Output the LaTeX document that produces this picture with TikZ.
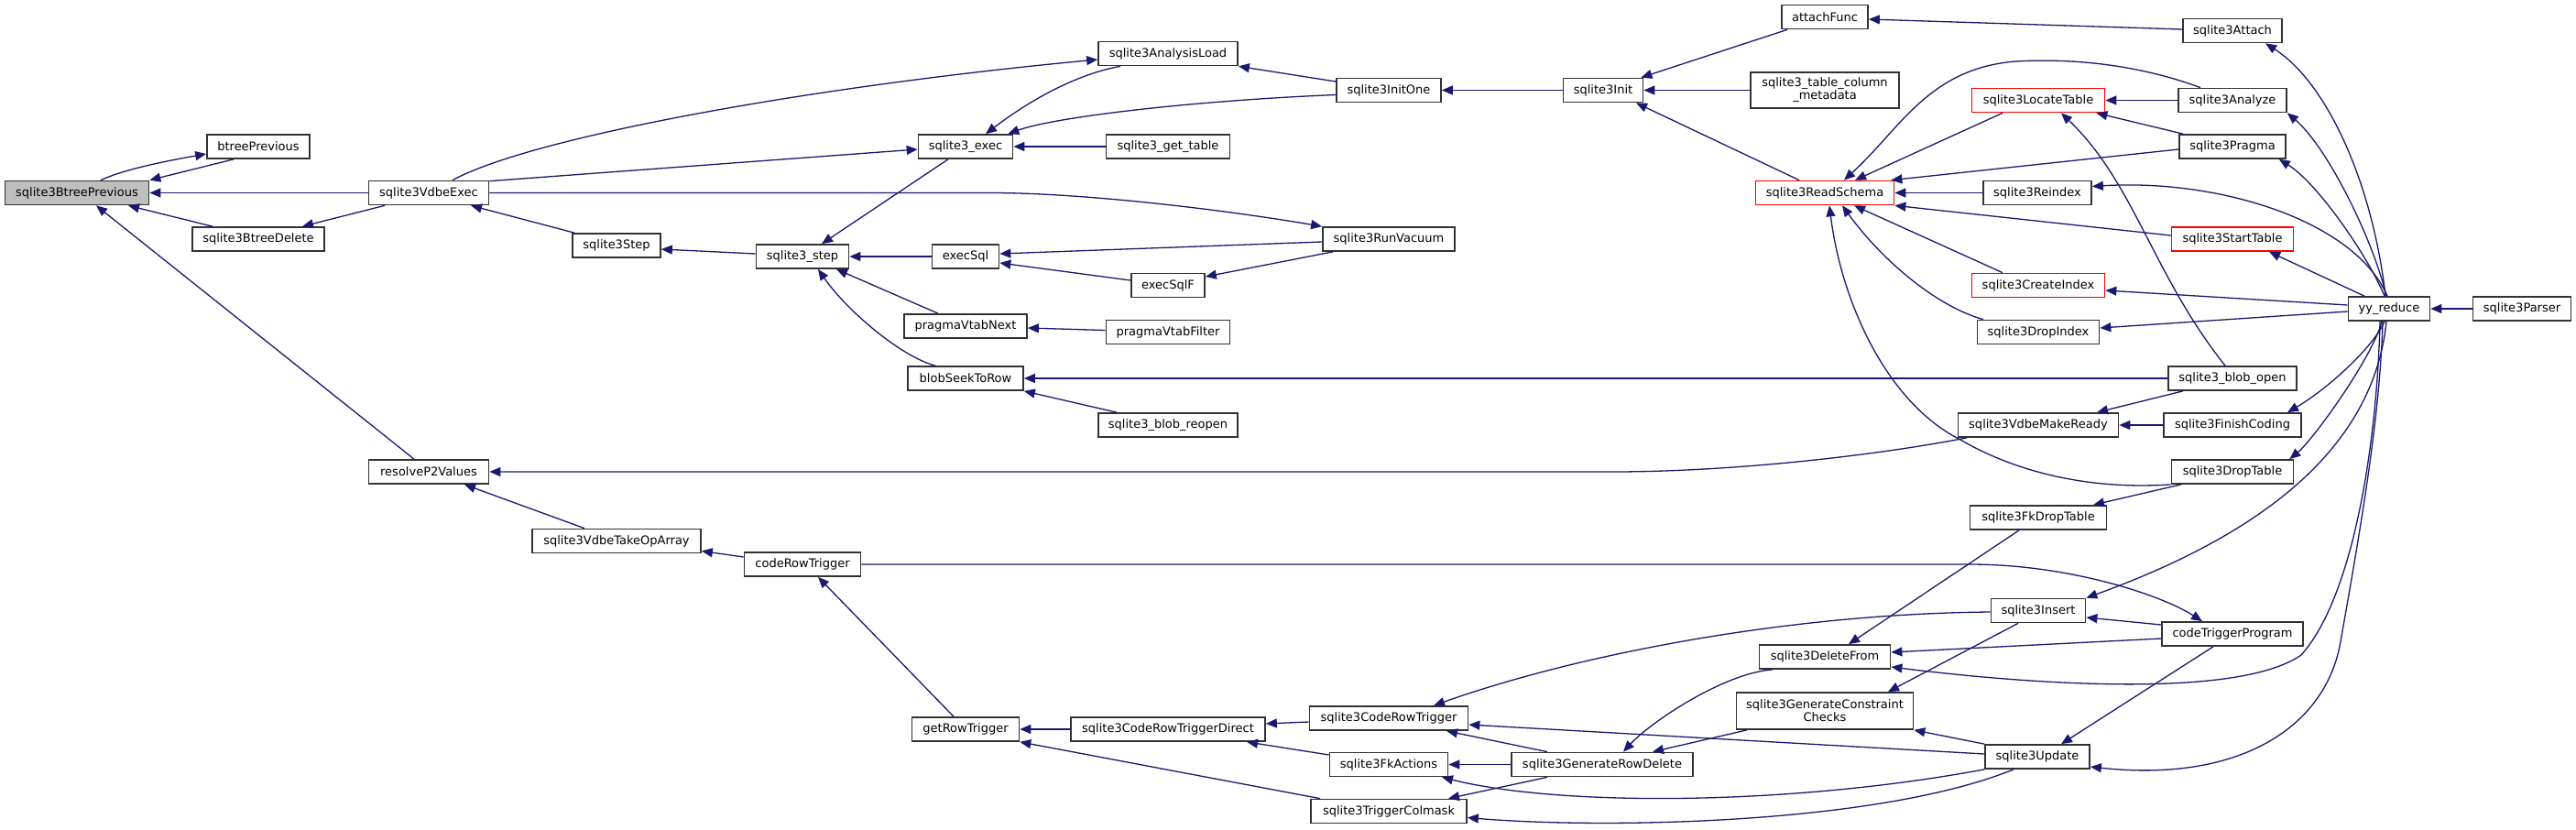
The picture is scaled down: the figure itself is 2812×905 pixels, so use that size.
\documentclass[tikz,border=0pt]{standalone}
\usepackage{fontspec}
\setmainfont{DejaVu Sans}
\usetikzlibrary{arrows.meta}
\definecolor{edgecol}{RGB}{25,25,112}
\definecolor{rednode}{RGB}{255,0,0}
\definecolor{graynode}{RGB}{191,191,191}
\definecolor{bordercol}{RGB}{50,50,50}
\begin{document}
\begin{tikzpicture}[x=1pt,y=-1pt,
  fn/.style={draw=bordercol, line width=1.7pt, fill=white, minimum height=26pt, inner sep=0pt, align=center, font=\fontsize{13}{14}\selectfont},
  rn/.style={fn, draw=rednode},
  gn/.style={fn, fill=graynode},
  ed/.style={draw=edgecol, line width=1.3pt, {Triangle[length=12pt,width=10pt]}-}]
\useasboundingbox[fill=white] (0,0) rectangle (2812,905);
% nodes
\node[gn, minimum width=157pt] (bp) at (84,210.5) {sqlite3BtreePrevious};
\node[fn, minimum width=112pt] (btp) at (282,160) {btreePrevious};
\node[fn, minimum width=131pt] (vdx) at (468,210.5) {sqlite3VdbeExec};
\node[fn, minimum width=144pt] (btd) at (282,261) {sqlite3BtreeDelete};
\node[fn, minimum width=131pt] (rp2) at (468,515) {resolveP2Values};
\node[fn, minimum width=96pt] (step) at (673,268) {sqlite3Step};
\node[fn, minimum width=184pt] (vtoa) at (673,590.5) {sqlite3VdbeTakeOpArray};
\node[fn, minimum width=152pt] (al) at (1275,58.5) {sqlite3AnalysisLoad};
\node[fn, minimum width=103pt] (exec) at (1054,160) {sqlite3\_exec};
\node[fn, minimum width=135pt] (gt) at (1275,160) {sqlite3\_get\_table};
\node[fn, minimum width=101pt] (s3step) at (876,280) {sqlite3\_step};
\node[fn, minimum width=73pt] (esql) at (1054,280) {execSql};
\node[fn, minimum width=80pt] (esqlf) at (1275,311.5) {execSqlF};
\node[fn, minimum width=134pt] (pvn) at (1054,356) {pragmaVtabNext};
\node[fn, minimum width=135pt] (pvf) at (1275,362.5) {pragmaVtabFilter};
\node[fn, minimum width=126pt] (bstr) at (1054,413) {blobSeekToRow};
\node[fn, minimum width=152pt] (bro) at (1275,464) {sqlite3\_blob\_reopen};
\node[fn, minimum width=127pt] (crt) at (876,616) {codeRowTrigger};
\node[fn, minimum width=117pt] (grt) at (1054,796) {getRowTrigger};
\node[fn, minimum width=212pt] (crtd) at (1275,796) {sqlite3CodeRowTriggerDirect};
\node[fn, minimum width=114pt] (io) at (1516,98.5) {sqlite3InitOne};
\node[fn, minimum width=87pt] (init) at (1750,98.5) {sqlite3Init};
\node[fn, minimum width=94pt] (af) at (1992,18.5) {attachFunc};
\node[fn, minimum width=162pt, minimum height=39pt] (tcm) at (1992,98.5) {sqlite3\_table\_column\\\_metadata};
\node[rn, minimum width=151pt] (rs) at (1992,210.5) {sqlite3ReadSchema};
\node[fn, minimum width=144pt] (rv) at (1516,261) {sqlite3RunVacuum};
\node[fn, minimum width=173pt] (cort) at (1516,784) {sqlite3CodeRowTrigger};
\node[fn, minimum width=129pt] (fka) at (1516,834.5) {sqlite3FkActions};
\node[fn, minimum width=170pt] (tcol) at (1516,885.5) {sqlite3TriggerColmask};
\node[fn, minimum width=198pt] (grd) at (1749,834.5) {sqlite3GenerateRowDelete};
\node[fn, minimum width=143pt] (df) at (1992,717) {sqlite3DeleteFrom};
\node[fn, minimum width=193pt, minimum height=40pt] (gcc) at (1992,776) {sqlite3GenerateConstraint\\Checks};
\node[fn, minimum width=108pt] (att) at (2437,33.5) {sqlite3Attach};
\node[rn, minimum width=145pt] (lt) at (2225,109.5) {sqlite3LocateTable};
\node[fn, minimum width=118pt] (an) at (2437,109.5) {sqlite3Analyze};
\node[fn, minimum width=116pt] (pr) at (2437,160) {sqlite3Pragma};
\node[fn, minimum width=118pt] (ri) at (2224,210.5) {sqlite3Reindex};
\node[rn, minimum width=133pt] (st) at (2437,261) {sqlite3StartTable};
\node[rn, minimum width=145pt] (ci) at (2225,311.5) {sqlite3CreateIndex};
\node[fn, minimum width=133pt] (di) at (2225,362.5) {sqlite3DropIndex};
\node[fn, minimum width=89pt] (yy) at (2608,337) {yy\_reduce};
\node[fn, minimum width=107pt] (par) at (2753,337) {sqlite3Parser};
\node[fn, minimum width=140pt] (bo) at (2437,413) {sqlite3\_blob\_open};
\node[fn, minimum width=175pt] (vmr) at (2225,464) {sqlite3VdbeMakeReady};
\node[fn, minimum width=150pt] (fc) at (2437,464) {sqlite3FinishCoding};
\node[fn, minimum width=133pt] (dt) at (2437,515) {sqlite3DropTable};
\node[fn, minimum width=149pt] (fdt) at (2225,565) {sqlite3FkDropTable};
\node[fn, minimum width=103pt] (ins) at (2225,666.5) {sqlite3Insert};
\node[fn, minimum width=154pt] (ctp) at (2437,692) {codeTriggerProgram};
\node[fn, minimum width=114pt] (upd) at (2224,826) {sqlite3Update};
% edges (arrow tip at callee)
\draw[ed] (bp.north east) -- ([xshift=-27pt]btp.south);
\draw[ed] ([yshift=-8pt]btp.west) .. controls (180,176) and (135,185) .. ([xshift=26pt]bp.north);
\draw[ed] (bp.east) -- (vdx.west);
\draw[ed] ([xshift=56pt]bp.south) -- ([xshift=-50pt]btd.north);
\draw[ed] ([xshift=48pt]btd.north) -- ([xshift=-48pt]vdx.south);
\draw[ed] ([xshift=21pt]bp.south) -- ([xshift=-16pt]rp2.north);
\draw[ed] ([xshift=46pt]vdx.south) -- ([xshift=-46pt]step.north);
\draw[ed] ([yshift=-6.5pt]al.west) .. controls (880,95) and (580,150) .. ([xshift=26pt]vdx.north);
\draw[ed] ([yshift=-3pt]exec.west) -- ([yshift=-1pt]vdx.north east);
\draw[ed] (rv.north west) .. controls (1330,228) and (1180,210.5) .. (1081,210.5) -- (vdx.east);
\draw[ed] (al.south east) -- ([yshift=9.5pt]io.west);
\draw[ed] ([xshift=-6pt]exec.north east) .. controls (1150,128) and (1300,110) .. ([yshift=-5pt]io.west);
\draw[ed] ([xshift=22pt]exec.north) .. controls (1130,105) and (1180,80) .. ([xshift=-52pt]al.south);
\draw[ed] ([xshift=21pt]s3step.north) -- ([xshift=-19pt]exec.south);
\draw[ed] (exec.east) -- (gt.west);
\draw[ed] ([yshift=-4pt]step.east) -- ([yshift=3pt]s3step.west);
\draw[ed] (s3step.east) -- (esql.west);
\draw[ed] ([xshift=37pt]s3step.south) -- ([xshift=-30pt]pvn.north);
\draw[ed] ([xshift=17pt]s3step.south) .. controls (925,340) and (985,390) .. ([xshift=-33pt]bstr.north);
\draw[ed] ([yshift=3pt]esql.east) -- ([yshift=-3pt]rv.west);
\draw[ed] ([yshift=-7pt]esql.east) -- ([yshift=5.5pt]esqlf.west);
\draw[ed] ([yshift=9.5pt]esqlf.east) -- ([xshift=-61pt]rv.south);
\draw[ed] ([yshift=-2pt]pvn.east) -- ([yshift=2pt]pvf.west);
\draw[ed] (bstr.south east) -- ([xshift=-56pt]bro.north);
\draw[ed] (bstr.east) -- (bo.west);
\draw[ed] (io.east) -- (init.west);
\draw[ed] ([xshift=-3pt]init.north east) -- ([xshift=-41pt]af.south);
\draw[ed] (init.east) -- (tcm.west);
\draw[ed] ([xshift=36pt]init.south) -- ([xshift=-28pt]rs.north);
\draw[ed] ([yshift=-2.5pt]af.east) -- ([yshift=1.5pt]att.west);
\draw[ed] ([xshift=21pt]rs.north) .. controls (2075,140) and (2105,75) .. (2200,67) .. controls (2290,62) and (2360,80) .. ([xshift=-35pt]an.north);
\draw[ed] ([xshift=33pt]rs.north) -- ([xshift=-39pt]lt.south);
\draw[ed] ([xshift=-4pt]rs.north east) -- ([yshift=-3pt]pr.west);
\draw[ed] (rs.east) -- (ri.west);
\draw[ed] (rs.south east) -- ([yshift=4pt]st.west);
\draw[ed] ([xshift=32pt]rs.south) -- ([xshift=-39pt]ci.north);
\draw[ed] ([xshift=19pt]rs.south) .. controls (2055,285) and (2115,335) .. ([xshift=-60pt]di.north);
\draw[ed] ([xshift=5pt]rs.south) .. controls (2010,330) and (2060,440) .. (2140,480) .. controls (2200,515) and (2280,535) .. (dt.south west);
\draw[ed] (lt.east) -- (an.west);
\draw[ed] ([xshift=-10pt]lt.south east) -- ([xshift=-54pt]pr.north);
\draw[ed] ([xshift=25pt]lt.south) .. controls (2330,200) and (2350,300) .. ([xshift=-8pt]bo.north);
\draw[ed] ([xshift=36pt]att.south) .. controls (2540,90) and (2590,200) .. ([xshift=-4pt]yy.north);
\draw[ed] (an.south east) .. controls (2540,160) and (2590,260) .. ([xshift=-3pt]yy.north);
\draw[ed] ([xshift=-8pt]pr.south east) .. controls (2530,200) and (2585,280) .. ([xshift=-5pt]yy.north);
\draw[ed] ([yshift=7pt]ri.east) .. controls (2420,195) and (2570,240) .. ([xshift=-2pt]yy.north);
\draw[ed] ([xshift=40pt]st.south) -- ([xshift=-27pt]yy.north);
\draw[ed] ([yshift=-5.5pt]ci.east) -- ([yshift=4pt]yy.west);
\draw[ed] ([yshift=4.5pt]di.east) -- ([yshift=-3pt]yy.west);
\draw[ed] (yy.east) -- (par.west);
\draw[ed] ([xshift=64pt]vmr.north) -- ([xshift=-54pt]bo.south);
\draw[ed] ([xshift=60pt]fc.north) .. controls (2540,425) and (2590,380) .. ([xshift=-5pt]yy.south);
\draw[ed] (vmr.east) -- (fc.west);
\draw[ed] (rp2.east) -- (1760,515) .. controls (1900,515) and (2060,495) .. ([xshift=-78pt]vmr.south);
\draw[ed] ([xshift=-5pt]dt.north east) .. controls (2525,480) and (2590,390) .. ([xshift=-8pt]yy.south);
\draw[ed] ([xshift=60pt]fdt.north) -- ([xshift=-56pt]dt.south);
\draw[ed] ([xshift=26pt]df.north) -- ([xshift=-21pt]fdt.south);
\draw[ed] (ins.north east) .. controls (2450,590) and (2590,500) .. ([xshift=-3pt]yy.south);
\draw[ed] ([yshift=-7.5pt]ins.east) -- ([yshift=10pt]ctp.west);
\draw[ed] ([xshift=-33pt]ctp.north) .. controls (2360,650) and (2260,616) .. (2150,616) -- (crt.east);
\draw[ed] ([yshift=5pt]df.east) -- ([yshift=-5pt]ctp.west);
\draw[ed] ([xshift=26pt]upd.north) -- ([xshift=-21pt]ctp.south);
\draw[ed] ([yshift=-11pt]df.east) .. controls (2200,745) and (2440,765) .. (2512,715) .. controls (2570,650) and (2595,480) .. ([xshift=-10pt]yy.south);
\draw[ed] ([yshift=-11pt]upd.east) .. controls (2450,855) and (2540,790) .. (2555,700) .. controls (2580,560) and (2598,450) .. ([xshift=-7pt]yy.south);
\draw[ed] ([xshift=23pt]grd.north) .. controls (1800,790) and (1880,735) .. ([xshift=-57pt]df.south);
\draw[ed] ([xshift=55pt]grd.north) -- ([xshift=-85pt]gcc.south);
\draw[ed] (gcc.south east) -- (upd.north west);
\draw[ed] ([xshift=69pt]gcc.north) -- ([xshift=-22pt]ins.south);
\draw[ed] ([xshift=49pt]cort.north) .. controls (1720,715) and (1950,670) .. ([yshift=-1.5pt]ins.west);
\draw[ed] ([yshift=-7pt]cort.east) -- ([yshift=3pt]upd.west);
\draw[ed] ([xshift=63pt]cort.south) -- ([xshift=-60pt]grd.north);
\draw[ed] (fka.east) -- (grd.west);
\draw[ed] ([xshift=58pt]fka.south) .. controls (1700,880) and (1950,880) .. (upd.south west);
\draw[ed] ([xshift=65pt]tcol.north) -- ([xshift=-60pt]grd.south);
\draw[ed] ([yshift=-7pt]tcol.east) .. controls (1750,905) and (2050,900) .. ([xshift=-26pt]upd.south);
\draw[ed] ([yshift=6pt]crtd.east) -- ([yshift=-4pt]cort.west);
\draw[ed] ([xshift=86pt]crtd.south) -- ([yshift=10.5pt]fka.west);
\draw[ed] (grt.east) -- (crtd.west);
\draw[ed] (grt.south east) -- ([xshift=-75pt]tcol.north);
\draw[ed] ([xshift=17pt]crt.south) -- ([xshift=-13pt]grt.north);
\draw[ed] ([yshift=-11pt]vtoa.east) -- ([yshift=8pt]crt.west);
\draw[ed] ([xshift=39pt]rp2.south) -- ([xshift=-35pt]vtoa.north);
\end{tikzpicture}
\end{document}
